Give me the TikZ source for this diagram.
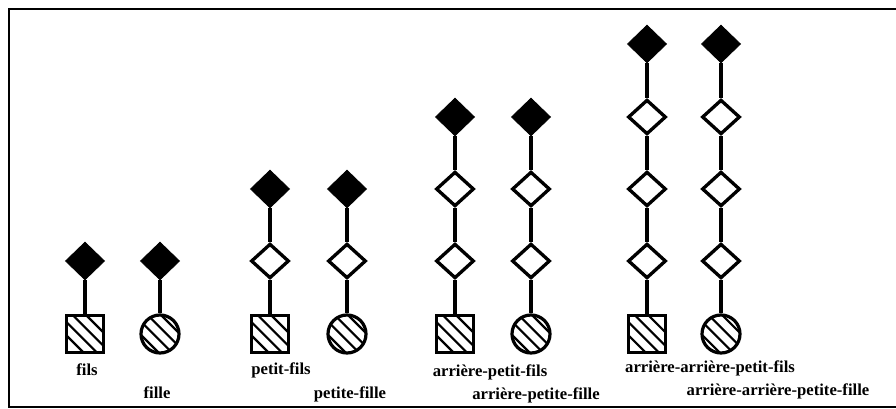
\documentclass[tikz,border=0pt]{standalone}
\usepackage{fontspec}
\setmainfont{Liberation Serif}
\usetikzlibrary{shapes.geometric}

\tikzset{
  hachures/.style={path picture={
      \foreach \c in {-15,-5,5,15}
        \draw[line width=1.6pt, shift={(path picture bounding box.center)}]
          (-20pt,{(\c+20)*1pt}) -- (20pt,{(\c-20)*1pt});
    }},
  garcon/.style={draw, rectangle, line width=2.6pt, minimum size=28pt, inner sep=0pt, hachures},
  fille/.style={draw, circle, line width=2.4pt, minimum size=28.5pt, inner sep=0pt, hachures},
  ancetre/.style={diamond, fill=black, draw, line width=0.5pt, minimum width=29.5pt, minimum height=28.5pt, inner sep=0pt},
  parent/.style={diamond, draw, line width=2.5pt, minimum width=28.5pt, minimum height=26pt, inner sep=0pt},
  lien/.style={line width=2.4pt},
  nom/.style={font=\bfseries\fontsize{12.5}{14}\selectfont, inner sep=0pt}
}

\begin{document}
\begin{tikzpicture}[x=0.75pt, y=-0.75pt]
  \useasboundingbox (0,0) rectangle (896,409);
  % cadre
  \draw[line width=1.8pt] (896,9) -- (9,9) -- (9,407) -- (896,407);

  % fils / fille
  \node[garcon] (fils) at (85,334) {};
  \node[ancetre] (fils-1) at (85,261) {};
  \node[fille] (fille) at (160,334) {};
  \node[ancetre] (fille-1) at (160,261) {};

  \draw[lien] (fils) -- (fils-1);
  \draw[lien] (fille) -- (fille-1);

  \node[nom] (n-fils) at (87,370) {fils};
  \node[nom] (n-fille) at (157,393) {fille};

  % petit-fils / petite-fille
  \node[garcon] (pfils) at (270,334) {};
  \node[parent] (pfils-1) at (270,261) {};
  \node[ancetre] (pfils-2) at (270,189) {};
  \node[fille] (pfille) at (347,334) {};
  \node[parent] (pfille-1) at (347,261) {};
  \node[ancetre] (pfille-2) at (347,189) {};

  \draw[lien] (pfils) -- (pfils-1);
  \draw[lien] (pfils-1) -- (pfils-2);
  \draw[lien] (pfille) -- (pfille-1);
  \draw[lien] (pfille-1) -- (pfille-2);

  \node[nom] (n-pfils) at (281,370) {petit-fils};
  \node[nom] (n-pfille) at (350,394) {petite-fille};

  % arriere-petit-fils / arriere-petite-fille
  \node[garcon] (apfils) at (455,334) {};
  \node[parent] (apfils-1) at (455,261) {};
  \node[parent] (apfils-2) at (455,189) {};
  \node[ancetre] (apfils-3) at (455,117) {};
  \node[fille] (apfille) at (531,334) {};
  \node[parent] (apfille-1) at (531,261) {};
  \node[parent] (apfille-2) at (531,189) {};
  \node[ancetre] (apfille-3) at (531,117) {};

  \draw[lien] (apfils) -- (apfils-1);
  \draw[lien] (apfils-1) -- (apfils-2);
  \draw[lien] (apfils-2) -- (apfils-3);
  \draw[lien] (apfille) -- (apfille-1);
  \draw[lien] (apfille-1) -- (apfille-2);
  \draw[lien] (apfille-2) -- (apfille-3);

  \node[nom] (n-apfils) at (490,372) {arrière-petit-fils};
  \node[nom] (n-apfille) at (536,395) {arrière-petite-fille};

  % arriere-arriere-petit-fils / arriere-arriere-petite-fille
  \node[garcon] (aapfils) at (647,334) {};
  \node[parent] (aapfils-1) at (647,261) {};
  \node[parent] (aapfils-2) at (647,189) {};
  \node[parent] (aapfils-3) at (647,117) {};
  \node[ancetre] (aapfils-4) at (647,44) {};
  \node[fille] (aapfille) at (721,334) {};
  \node[parent] (aapfille-1) at (721,261) {};
  \node[parent] (aapfille-2) at (721,189) {};
  \node[parent] (aapfille-3) at (721,117) {};
  \node[ancetre] (aapfille-4) at (721,44) {};

  \draw[lien] (aapfils) -- (aapfils-1);
  \draw[lien] (aapfils-1) -- (aapfils-2);
  \draw[lien] (aapfils-2) -- (aapfils-3);
  \draw[lien] (aapfils-3) -- (aapfils-4);
  \draw[lien] (aapfille) -- (aapfille-1);
  \draw[lien] (aapfille-1) -- (aapfille-2);
  \draw[lien] (aapfille-2) -- (aapfille-3);
  \draw[lien] (aapfille-3) -- (aapfille-4);

  \node[nom] (n-aapfils) at (710,368) {arrière-arrière-petit-fils};
  \node[nom] (n-aapfille) at (778,391) {arrière-arrière-petite-fille};
\end{tikzpicture}
\end{document}
